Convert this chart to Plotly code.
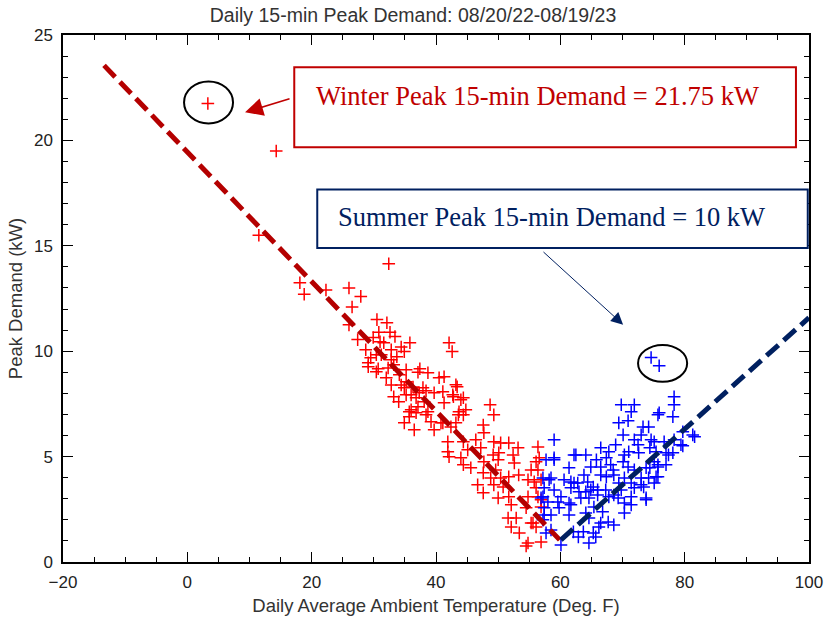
import plotly.graph_objects as go

# ---- data ----
winter_temp = [3.3, 14.3, 11.5, 18.1, 18.8, 22.3, 26.0, 27.9, 32.4, 26.5,
               26.0, 30.5, 32.1, 30.8, 32.6, 33.4, 27.4, 29.9, 31.0, 31.6,
               35.8, 34.4, 28.7, 32.8, 34.9, 30.4, 29.5, 32.8, 29.1, 33.2,
               29.1, 30.7, 32.3, 35.2, 37.1, 37.4, 38.7, 40.5, 32.0, 32.8,
               34.4, 35.2, 36.3, 37.9, 38.4, 33.2, 34.0, 35.2, 36.8, 39.7,
               37.1, 35.7, 36.8, 38.4, 35.7, 41.1, 42.7, 44.0, 41.3, 43.7,
               44.8, 44.4, 48.7, 49.3, 36.0, 34.9, 36.5, 39.7, 40.8, 42.4,
               47.6, 47.7, 41.9, 44.4, 46.4, 49.3, 50.4, 51.7, 41.9, 45.1,
               47.2, 49.2, 50.1, 53.2, 52.4, 56.4, 42.1, 44.0, 44.4, 45.6,
               47.7, 50.0, 52.6, 56.1, 56.4, 47.6, 49.6, 48.8, 50.4, 51.7,
               53.3, 54.8, 46.7, 49.3, 50.8, 56.1, 47.6, 50.0, 51.7, 56.4,
               52.1, 54.5, 56.9, 51.6, 52.9, 55.6, 52.1, 56.1, 53.4, 54.8,
               56.9, 54.5, 42.1, 42.6, 43.4, 41.3, 42.8, 44.4, 43.6, 39.2,
               43.2, 55.8, 55.3, 54.8, 55.3, 43.2, 38.7, 41.1, 34.9, 36.0,
               37.3, 38.1, 31.2, 33.7, 30.4, 34.1, 56.6, 56.9, 56.9]
winter_peak = [21.75, 19.5, 15.5, 13.25, 12.7, 12.9, 13.0, 12.6, 14.15, 12.1,
               11.25, 11.5, 11.35, 10.9, 10.9, 10.7, 10.55, 10.65, 10.45, 10.4,
               10.4, 10.2, 10.07, 10.07, 9.98, 9.83, 9.69, 9.6, 9.45, 9.36,
               9.26, 9.17, 9.2, 9.12, 9.0, 9.17, 8.98, 8.74, 8.74, 8.4,
               8.4, 8.55, 8.3, 8.27, 8.12, 7.84, 7.6, 7.93, 7.79, 8.03,
               7.36, 7.13, 7.08, 6.98, 6.89, 8.08, 7.93, 7.7, 7.55, 7.13,
               7.22, 6.98, 7.46, 6.98, 7.22, 6.6, 6.27, 6.27, 6.6, 6.41,
               6.5, 6.13, 5.7, 5.7, 5.8, 5.7, 5.65, 5.65, 5.23, 5.32,
               5.42, 5.08, 5.18, 5.42, 5.08, 5.46, 4.99, 4.94, 4.61, 4.47,
               4.75, 4.85, 4.7, 4.75, 4.37, 4.23, 4.37, 3.99, 3.99, 4.04,
               4.13, 3.9, 3.66, 3.66, 3.56, 3.52, 3.28, 3.04, 3.09, 3.09,
               2.71, 2.57, 2.61, 2.09, 2.09, 1.85, 1.66, 1.66, 1.38, 0.9,
               0.95, 0.76, 10.4, 9.98, 8.31, 8.79, 7.84, 7.79, 6.98, 6.65,
               6.6, 3.8, 4.37, 3.09, 1.85, 8.41, 7.13, 6.6, 8.27, 7.93,
               8.03, 7.6, 9.83, 9.74, 9.02, 8.88, 4.94, 3.9, 2.95]

summer_temp = [74.6, 75.9, 78.3, 78.3, 75.9, 78.1, 81.3, 79.7, 79.4, 69.8,
               71.9, 71.4, 69.4, 70.9, 75.7, 70.1, 73.3, 74.2, 73.0, 59.0,
               68.9, 71.9, 72.5, 75.1, 66.5, 67.8, 62.5, 64.1, 70.3, 71.0,
               72.6, 57.7, 59.0, 64.9, 66.5, 68.1, 70.1, 70.9, 61.4, 71.9,
               73.8, 75.7, 57.2, 58.5, 60.6, 61.7, 62.8, 64.4, 65.3, 66.5,
               67.4, 68.6, 70.3, 71.4, 73.0, 74.2, 75.7, 57.4, 61.7, 63.0,
               64.1, 64.9, 66.0, 67.3, 68.6, 69.8, 71.9, 73.0, 57.2, 60.1,
               63.3, 64.6, 66.0, 67.8, 69.3, 71.4, 73.8, 59.6, 61.7, 65.4,
               70.3, 71.4, 57.4, 59.8, 64.1, 66.8, 70.3, 58.5, 61.4, 64.6,
               66.5, 67.7, 68.6, 57.2, 57.7, 60.1, 62.1, 63.7, 62.9, 65.3,
               66.2, 65.7, 64.6, 74.6, 76.7, 78.3, 74.4, 75.4, 77.0, 78.1,
               75.1, 77.0, 74.4, 75.4, 73.4, 75.1, 73.8, 81.6, 79.7, 77.4,
               75.7, 59.0, 62.2, 58.2, 62.2, 59.0, 56.9, 58.0, 61.4, 57.4,
               58.5, 65.8, 67.4, 68.5, 69.4, 63.8]
summer_peak = [9.7, 9.31, 7.84, 7.46, 7.08, 6.89, 6.03, 6.18, 5.56, 7.46,
               7.46, 7.13, 6.6, 6.7, 6.98, 6.03, 6.41, 6.41, 6.03, 5.8,
               5.56, 5.8, 5.56, 5.7, 5.42, 5.23, 5.08, 5.08, 5.08, 5.23,
               5.18, 4.85, 4.85, 4.51, 4.51, 4.61, 4.75, 4.51, 4.47, 4.37,
               4.47, 4.61, 3.99, 3.99, 3.9, 3.8, 3.75, 3.8, 3.56, 4.13,
               4.04, 4.13, 3.99, 3.75, 3.99, 3.99, 4.04, 3.52, 3.52, 3.33,
               3.33, 3.42, 3.42, 3.42, 3.18, 3.42, 3.52, 3.66, 3.09, 3.09,
               3.04, 3.04, 3.18, 3.09, 3.04, 3.09, 2.95, 2.85, 2.71, 2.61,
               2.8, 2.71, 2.57, 2.57, 2.33, 2.38, 2.33, 2.23, 2.23, 2.09,
               1.85, 1.9, 1.76, 2.0, 1.38, 0.81, 1.43, 1.43, 1.19, 1.38,
               1.66, 1.19, 0.9, 5.8, 5.7, 5.8, 5.42, 5.23, 5.18, 5.18,
               4.75, 4.61, 4.47, 4.04, 3.56, 3.75, 3.04, 5.94, 5.51, 5.08,
               4.51, 4.94, 5.08, 3.9, 3.75, 3.42, 3.04, 2.85, 2.8, 2.23,
               1.52, 4.85, 4.94, 4.37, 3.75, 4.13]

winter_fit_temp = [-13.4, 59.9]
winter_fit_peak = [23.56, 1.05]
summer_fit_temp = [60.1, 100.0]
summer_fit_peak = [1.05, 11.59]

title = "Daily 15-min Peak Demand: 08/20/22-08/19/23"
x_title = "Daily Average Ambient Temperature (Deg. F)"
y_title = "Peak Demand (kW)"
winter_text = "Winter Peak 15-min Demand = 21.75 kW"
summer_text = "Summer Peak 15-min Demand = 10 kW"

RED = "#ff0000"
BLUE = "#0000ff"
DKRED = "#b40000"
NAVY = "#002060"
BOXRED = "#c00000"
SANS = "Liberation Sans, Arial, sans-serif"

fig = go.Figure()
fig.add_trace(go.Scatter(x=winter_temp, y=winter_peak, mode="markers",
                         marker=dict(symbol="cross-thin", size=9,
                                     line=dict(color=RED, width=1.5)),
                         showlegend=False))
fig.add_trace(go.Scatter(x=summer_temp, y=summer_peak, mode="markers",
                         marker=dict(symbol="cross-thin", size=9,
                                     line=dict(color=BLUE, width=1.5)),
                         showlegend=False))
fig.add_trace(go.Scatter(x=winter_fit_temp, y=winter_fit_peak, mode="lines",
                         line=dict(color=DKRED, width=5, dash="16px,7px"),
                         showlegend=False))
fig.add_trace(go.Scatter(x=summer_fit_temp, y=summer_fit_peak, mode="lines",
                         line=dict(color=NAVY, width=5, dash="16px,7px"),
                         showlegend=False))

# boxes and circles
fig.add_shape(type="rect", xref="x", yref="y", x0=17.2, x1=97.9, y0=19.67, y1=23.47,
              line=dict(color=BOXRED, width=2), fillcolor="white", layer="above")
fig.add_shape(type="rect", xref="x", yref="y", x0=20.9, x1=99.8, y0=14.9, y1=17.67,
              line=dict(color=NAVY, width=2), fillcolor="white", layer="above")
fig.add_shape(type="circle", xref="x", yref="y", x0=-0.53, x1=7.35, y0=20.8, y1=22.8,
              line=dict(color="black", width=2))
fig.add_shape(type="circle", xref="x", yref="y", x0=72.5, x1=80.4, y0=8.55, y1=10.3,
              line=dict(color="black", width=2))

fig.add_annotation(x=56.3, y=22.1, xref="x", yref="y", text=winter_text, showarrow=False,
                   font=dict(family="Liberation Serif, Times New Roman, serif", size=26.5, color=BOXRED))
fig.add_annotation(x=58.6, y=16.35, xref="x", yref="y", text=summer_text, showarrow=False,
                   font=dict(family="Liberation Serif, Times New Roman, serif", size=26.5, color=NAVY))

# arrows
fig.add_annotation(x=9.28, y=21.33, ax=16.68, ay=22.0, xref="x", yref="y",
                   axref="x", ayref="y", text="", showarrow=True,
                   arrowhead=2, arrowsize=2.4, arrowwidth=1.5, arrowcolor=BOXRED)
fig.add_annotation(x=70.1, y=11.26, ax=57.05, ay=14.77, xref="x", yref="y",
                   axref="x", ayref="y", text="", showarrow=True,
                   arrowhead=2, arrowsize=2.4, arrowwidth=1, arrowcolor=NAVY)

axis_common = dict(showline=True, linecolor="black", linewidth=1.5, mirror="ticks",
                   ticks="inside", ticklen=10, tickwidth=1.2, tickcolor="black",
                   showgrid=False, zeroline=False, automargin=False,
                   tickfont=dict(family=SANS, size=17, color="#222"),
                   title_font=dict(family=SANS, size=18.5, color="#333"))

fig.update_xaxes(range=[-20, 100], dtick=20, tick0=0, ticklabelstandoff=4,
                 minor=dict(dtick=5, ticks="inside", ticklen=5, tickcolor="black"),
                 title_text=x_title, title_standoff=8, **axis_common)
fig.update_yaxes(range=[0, 25], dtick=5, tick0=0, ticklabelstandoff=5,
                 minor=dict(dtick=1, ticks="inside", ticklen=5, tickcolor="black"),
                 title_text=y_title, title_standoff=6, **axis_common)

fig.update_layout(
    width=826, height=622,
    margin=dict(l=63, r=17, t=35, b=60),
    paper_bgcolor="white", plot_bgcolor="white",
    title=dict(text=title, x=0.5, xanchor="center", y=0.975, yanchor="middle",
               font=dict(family=SANS, size=19.5, color="#333")),
    showlegend=False,
)

fig.write_html("out.html")
